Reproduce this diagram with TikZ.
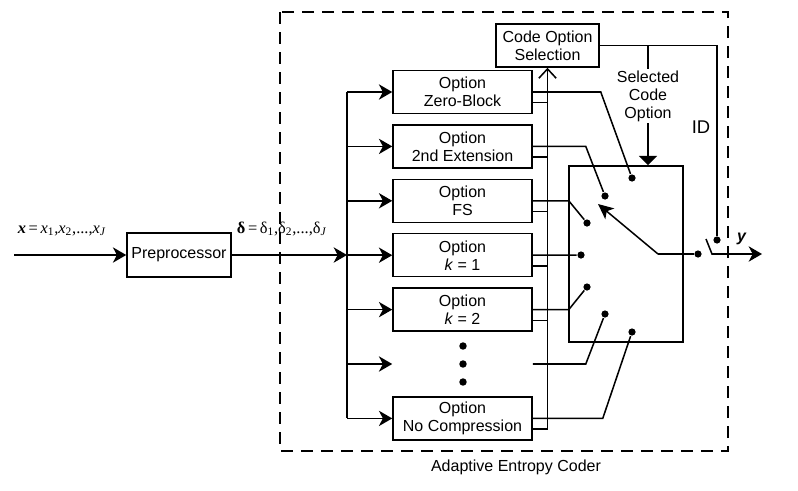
\documentclass[tikz,border=0pt]{standalone}
\usepackage{fontspec}
\setmainfont{Liberation Sans}
\newfontfamily\serif{Liberation Serif}
\usetikzlibrary{arrows.meta,calc}
\begin{document}
\begin{tikzpicture}[x=0.75pt,y=-0.75pt, line width=1.15pt,
  font=\fontsize{12}{13.5}\selectfont,
  box/.style={draw, inner sep=0pt, align=center, minimum width=104.25pt, minimum height=32.25pt},
  ghost/.style={inner sep=0pt, minimum width=104.25pt, minimum height=32.25pt},
  arr/.style={-{Stealth[length=10pt,width=11.5pt,inset=3pt]}},
  swarr/.style={-{Stealth[length=11.5pt,width=10.5pt,inset=3pt]}},
  openarr/.style={-{Straight Barb[length=7pt,width=13pt]}},
  tri/.style={-{Triangle[length=7pt,width=13.5pt]}},
  dot/.style={circle, fill, inner sep=0pt, minimum size=5.4pt},
  region/.style={dash pattern=on 9pt off 6pt},
  mathlab/.style={anchor=base west, inner sep=0pt, font=\serif\fontsize{12.3}{14}\selectfont}
]
\useasboundingbox (0,0) rectangle (798,490);

% region
\draw[region] (280,12) rectangle (728,451);
\node (lab) at (516,467) {Adaptive Entropy Coder};

% boxes
\node[box, minimum width=78pt, minimum height=33pt] (pre) at (179,255) {Preprocessor};
\node[box] (o1) at (462.5,92) {Option\\Zero-Block};
\node[box] (o2) at (462.5,146.4) {Option\\2nd Extension};
\node[box] (o3) at (462.5,200.8) {Option\\FS};
\node[box] (o4) at (462.5,255.2) {Option\\\textit{k} = 1};
\node[box] (o5) at (462.5,309.6) {Option\\\textit{k} = 2};
\node[ghost] (o6) at (462.5,364) {};
\node[box] (o7) at (462.5,418.4) {Option\\No Compression};
\node[box, minimum width=77.25pt] (cos) at (547.5,45.5) {Code Option\\Selection};
\node[draw, inner sep=0pt, minimum width=85.5pt, minimum height=132pt] (sw) at (626,254) {};

% ellipsis dots
\node[dot, minimum size=5.6pt] (e1) at (463,346) {};
\node[dot, minimum size=5.6pt] (e2) at (463,364) {};
\node[dot, minimum size=5.6pt] (e3) at (463,382) {};

% input and preprocessor output
\coordinate (xin) at (14,255);
\coordinate (bus) at (347,255);
\draw[arr] (xin) -- (pre.west);
\draw[arr] (pre.east) -- (bus);
\node[mathlab] (xl) at (17,233) {\textbf{\textit{x}}\,=\,\textit{x}\textsubscript{1},\textit{x}\textsubscript{2},...,\textit{x}\textsubscript{\textit{J}}};
\node[mathlab] (dl) at (236,233) {\textbf{δ}\,=\,δ\textsubscript{1},δ\textsubscript{2},...,δ\textsubscript{\textit{J}}};

% bus and branches
\draw (bus |- o1.west) -- (bus |- o7.west);
\foreach \i in {1,...,7} {
  \draw[arr] (bus |- o\i.west) -- (o\i.west);
}

% feedback stubs to code option selection
\foreach \i in {1,2,3,4,5,7} {
  \coordinate (s\i) at ([yshift=-8pt]o\i.east);
  \draw (s\i) -- (s\i -| cos.south);
}
\draw[openarr] (s7 -| cos.south) -- (cos.south);

% switch contacts
\node[dot] (c1) at (632,178) {};
\node[dot] (c2) at (605,196) {};
\node[dot] (c3) at (587,223) {};
\node[dot] (c4) at (581,255) {};
\node[dot] (c5) at (587,287) {};
\node[dot] (c6) at (605,314) {};
\node[dot] (c7) at (632,332) {};

\draw (o1.east) -- ++(68,0) -- (c1);
\draw (o2.east) -- ++(53,0) -- (c2);
\draw (o3.east) -- ++(36,0) -- (c3);
\draw (o4.east) -- (c4);
\draw (o5.east) -- ++(36,0) -- (c5);
\draw (o6.east) -- ++(53,0) -- (c6);
\draw (o7.east) -- ++(70,0) -- (c7);

% switch blade
\coordinate (piv) at (658,254);
\coordinate (tip) at (598,204);
\node[dot] (od) at (698,254) {};
\draw (piv) -- (od);
\draw[swarr] (piv) -- (tip);

% output switch
\coordinate (b1) at (706,239);
\coordinate (b2) at (712,254);
\coordinate (yout) at (762,254);
\draw[arr] (b1) -- (b2) -- (yout);
\node (yl) at (742,239) {\textbf{\textit{y}}};

% ID line
\node[dot] (idd) at (717,240) {};
\draw (cos.east) -- (cos.east -| idd) -- (idd);
\node (idl) at (701,127) {\fontsize{13.8}{16}\selectfont ID};

% selected code option
\coordinate (j) at (648,45.5);
\draw[tri] (j) -- (j |- sw.north);
\node[fill=white, inner sep=1pt, align=center] (sel) at (648,96) {Selected\\Code\\Option};
\end{tikzpicture}
\end{document}
